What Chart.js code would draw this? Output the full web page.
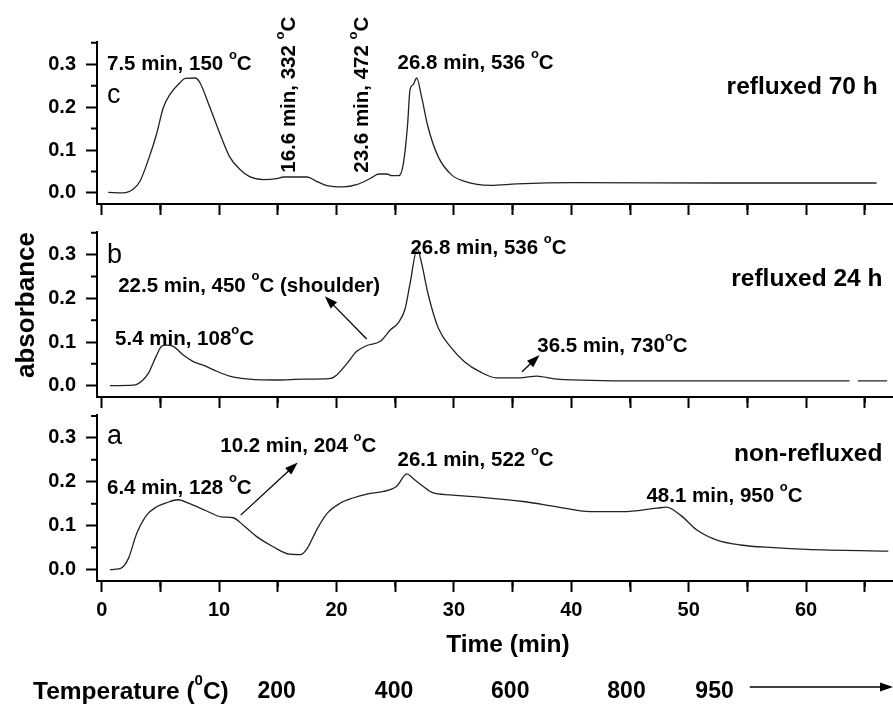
<!DOCTYPE html>
<html>
<head>
<meta charset="utf-8">
<title>absorbance vs time</title>
<script src="https://cdn.jsdelivr.net/npm/chart.js@4.4.0/dist/chart.umd.min.js"></script>
<style>
  html, body { margin: 0; padding: 0; background: #fff; }
  #wrap { position: relative; width: 893px; height: 706px; overflow: hidden; }
  #wrap canvas { position: absolute; left: 0; top: 0; }
</style>
</head>
<body>
<div id="wrap">
  <canvas id="panelC" width="893" height="706"></canvas>
  <canvas id="panelB" width="893" height="706"></canvas>
  <canvas id="panelA" width="893" height="706"></canvas>
</div>
<script>
// 📊 data (time in min, absorbance)
const timeC = [0.56, 1.8, 2.7, 3.26, 3.97, 4.68, 5.25, 5.82, 6.67, 7.1, 7.95, 8.37, 9.22, 10.07, 10.9, 11.8, 12.6, 13.8, 14.9, 15.5, 17.5, 18.3, 19.2, 20.6, 21.7, 22.9, 23.6, 24.3, 24.7, 25.3, 25.7, 26.06, 26.26, 26.54, 26.83, 27.26, 27.8, 28.67, 29.8, 30.9, 33.1, 35.35, 40.2, 52.9, 66.0];
const absC  = [0.001, 0.0, 0.009, 0.027, 0.077, 0.138, 0.199, 0.23, 0.257, 0.267, 0.268, 0.257, 0.199, 0.138, 0.084, 0.054, 0.038, 0.031, 0.033, 0.037, 0.037, 0.027, 0.017, 0.014, 0.019, 0.034, 0.044, 0.044, 0.040, 0.040, 0.069, 0.161, 0.241, 0.253, 0.268, 0.222, 0.153, 0.084, 0.042, 0.027, 0.0175, 0.021, 0.024, 0.023, 0.023];

const timeB = [0.7, 2.7, 3.4, 3.97, 4.68, 5.1, 5.5, 6.1, 6.95, 7.8, 8.65, 9.8, 10.9, 12.6, 14.9, 17.2, 19.4, 20.0, 20.9, 21.7, 22.6, 23.7, 24.6, 25.26, 25.83, 26.26, 26.88, 27.26, 27.8, 28.67, 29.8, 30.9, 32.2, 33.6, 35.6, 37.05, 38.75, 45.9, 63.7, 64.0, 64.4, 66.9];
const absB  = [0.0, 0.001, 0.01, 0.028, 0.07, 0.09, 0.093, 0.09, 0.07, 0.055, 0.047, 0.033, 0.022, 0.015, 0.013, 0.015, 0.016, 0.024, 0.051, 0.078, 0.092, 0.101, 0.128, 0.144, 0.175, 0.233, 0.314, 0.279, 0.21, 0.132, 0.086, 0.055, 0.032, 0.018, 0.018, 0.022, 0.015, 0.011, 0.011, null, 0.011, 0.011];

const timeA = [0.7, 1.56, 2.27, 2.98, 3.83, 4.68, 5.5, 6.5, 7.5, 8.9, 10.2, 11.2, 12.06, 13.2, 14.6, 16.0, 16.9, 17.5, 18.3, 19.2, 20.3, 21.4, 22.6, 24.0, 25.1, 26.0, 26.5, 27.4, 28.2, 29.7, 31.65, 35.9, 38.75, 41.6, 44.4, 47.3, 48.1, 49.3, 50.7, 52.4, 54.4, 57.2, 60.05, 67.0];
const absA  = [0.0, 0.002, 0.025, 0.082, 0.124, 0.143, 0.152, 0.159, 0.15, 0.134, 0.12, 0.118, 0.101, 0.075, 0.052, 0.035, 0.034, 0.048, 0.09, 0.128, 0.151, 0.163, 0.172, 0.178, 0.189, 0.218, 0.208, 0.189, 0.175, 0.17, 0.166, 0.155, 0.143, 0.132, 0.132, 0.14, 0.142, 0.124, 0.09, 0.067, 0.056, 0.05, 0.046, 0.042];

// tick values
const xTicks = [0, 5, 10, 15, 20, 25, 30, 35, 40, 45, 50, 55, 60, 65];
const yTicks = [0, 0.05, 0.1, 0.15, 0.2, 0.25, 0.3, 0.35];

// temperature row under the time axis
const tempLabels = ['200', '400', '600', '800', '950'];
const tempTimes  = [14.9, 24.9, 34.8, 44.7, 52.2];

const FAMILY = '"Liberation Sans", Arial, Helvetica, sans-serif';

// 📝 labels drawn on top of each panel, anchored in data units
const panelNotes = {
  panelC: {
    letter: { t: 0.45, v: 0.226, text: 'c' },
    texts: [
      { t: 0.45, v: 0.30, text: '7.5 min, 150 {o}C' },
      { t: 25.2, v: 0.302, text: '26.8 min, 536 {o}C' },
      { t: 66.1, v: 0.247, text: 'refluxed 70 h', big: true, align: 'right' },
      { t: 16.0, v: 0.047, text: '16.6 min, 332 {o}C', rotate: true },
      { t: 22.2, v: 0.047, text: '23.6 min, 472 {o}C', rotate: true },
    ],
    arrows: [],
  },
  panelB: {
    letter: { t: 0.45, v: 0.298, text: 'b' },
    texts: [
      { t: 1.4, v: 0.228, text: '22.5 min, 450 {o}C (shoulder)' },
      { t: 1.14, v: 0.105, text: '5.4 min, 108{o}C' },
      { t: 26.3, v: 0.314, text: '26.8 min, 536 {o}C' },
      { t: 66.5, v: 0.244, text: 'refluxed 24 h', big: true, align: 'right' },
      { t: 37.1, v: 0.089, text: '36.5 min, 730{o}C' },
    ],
    arrows: [[22.57, 0.107, 19.0, 0.205], [35.8, 0.032, 37.3, 0.070]],
  },
  panelA: {
    letter: { t: 0.45, v: 0.303, text: 'a' },
    texts: [
      { t: 10.1, v: 0.28, text: '10.2 min, 204 {o}C' },
      { t: 0.45, v: 0.186, text: '6.4 min, 128 {o}C' },
      { t: 25.2, v: 0.248, text: '26.1 min, 522 {o}C' },
      { t: 66.5, v: 0.262, text: 'non-refluxed', big: true, align: 'right' },
      { t: 46.4, v: 0.166, text: '48.1 min, 950 {o}C' },
    ],
    arrows: [[11.84, 0.124, 16.7, 0.244]],
  },
};

// text with a small raised "o" / "0" for the degree sign
function richText(ctx, str, x, y, size, align) {
  const parts = str.split(/(\{o\}|\{0\})/).filter(Boolean);
  const big = `bold ${size}px ${FAMILY}`;
  const small = `bold ${Math.round(size * 0.62)}px ${FAMILY}`;
  const isSup = (p) => p === '{o}' || p === '{0}';
  let w = 0;
  parts.forEach((p) => {
    ctx.font = isSup(p) ? small : big;
    w += ctx.measureText(isSup(p) ? p[1] : p).width;
  });
  let cx = align === 'right' ? x - w : align === 'center' ? x - w / 2 : x;
  ctx.textAlign = 'left';
  ctx.textBaseline = 'middle';
  parts.forEach((p) => {
    const sup = isSup(p);
    const t = sup ? p[1] : p;
    ctx.font = sup ? small : big;
    ctx.fillText(t, cx, sup ? y - size * 0.45 : y);
    cx += ctx.measureText(t).width;
  });
}

function arrow(ctx, x1, y1, x2, y2) {
  const a = Math.atan2(y2 - y1, x2 - x1);
  const len = 13, half = 4.5;
  ctx.strokeStyle = '#000';
  ctx.lineWidth = 1.3;
  ctx.beginPath();
  ctx.moveTo(x1, y1);
  ctx.lineTo(x2 - Math.cos(a) * len * 0.8, y2 - Math.sin(a) * len * 0.8);
  ctx.stroke();
  ctx.beginPath();
  ctx.moveTo(x2, y2);
  ctx.lineTo(x2 - Math.cos(a) * len - Math.sin(a) * half, y2 - Math.sin(a) * len + Math.cos(a) * half);
  ctx.lineTo(x2 - Math.cos(a) * len + Math.sin(a) * half, y2 - Math.sin(a) * len - Math.cos(a) * half);
  ctx.closePath();
  ctx.fillStyle = '#000';
  ctx.fill();
}

const NOTE_SIZE = 20.5;
const BIG_SIZE = 24.5;

const notesPlugin = {
  id: 'notes',
  afterDraw(chart) {
    const { ctx, chartArea, scales: { x, y } } = chart;
    const cfg = panelNotes[chart.canvas.id];
    ctx.save();
    ctx.fillStyle = '#000';

    // minor ticks (shorter than the ones Chart.js draws)
    ctx.strokeStyle = '#000';
    ctx.lineWidth = 2;
    ctx.beginPath();
    xTicks.filter((v) => v % 10 !== 0).forEach((v) => {
      const px = x.getPixelForValue(v);
      ctx.moveTo(px, chartArea.bottom);
      ctx.lineTo(px, chartArea.bottom + 6);
    });
    yTicks.filter((v) => Math.round(v * 100) % 10 !== 0).forEach((v) => {
      const py = y.getPixelForValue(v);
      ctx.moveTo(chartArea.left, py);
      ctx.lineTo(chartArea.left - 6, py);
    });
    ctx.stroke();

    // panel letter
    ctx.font = `27px ${FAMILY}`;
    ctx.textAlign = 'left';
    ctx.textBaseline = 'middle';
    ctx.fillText(cfg.letter.text, x.getPixelForValue(cfg.letter.t), y.getPixelForValue(cfg.letter.v));

    cfg.texts.forEach((n) => {
      const px = x.getPixelForValue(n.t);
      const py = y.getPixelForValue(n.v);
      if (n.rotate) {
        ctx.save();
        ctx.translate(px, py);
        ctx.rotate(-Math.PI / 2);
        richText(ctx, n.text, 0, 0, NOTE_SIZE, 'left');
        ctx.restore();
      } else {
        richText(ctx, n.text, px, py, n.big ? BIG_SIZE : NOTE_SIZE, n.align || 'left');
      }
    });

    cfg.arrows.forEach((a) => {
      arrow(ctx, x.getPixelForValue(a[0]), y.getPixelForValue(a[1]), x.getPixelForValue(a[2]), y.getPixelForValue(a[3]));
    });

    if (chart.canvas.id === 'panelB') {
      ctx.save();
      ctx.translate(27, 305);
      ctx.rotate(-Math.PI / 2);
      ctx.font = `bold 26px ${FAMILY}`;
      ctx.textAlign = 'center';
      ctx.textBaseline = 'middle';
      ctx.fillText('absorbance', 0, 0);
      ctx.restore();
    }

    if (chart.canvas.id === 'panelA') {
      ctx.font = `bold 24.5px ${FAMILY}`;
      ctx.textAlign = 'center';
      ctx.textBaseline = 'middle';
      ctx.fillText('Time (min)', x.getPixelForValue(34.6), 645);

      // temperature row
      richText(ctx, 'Temperature ({0}C)', 33, 692, 24.5, 'left');
      ctx.font = `bold 23px ${FAMILY}`;
      ctx.textAlign = 'center';
      tempLabels.forEach((lab, i) => ctx.fillText(lab, x.getPixelForValue(tempTimes[i]), 692));
      arrow(ctx, x.getPixelForValue(55.2), 687, 893, 687);
    }
    ctx.restore();
  },
};

Chart.defaults.font.family = FAMILY;
Chart.defaults.color = '#000';

const panels = [
  { id: 'panelC', t: timeC, v: absC, top: 42, bottom: 204, labels: false },
  { id: 'panelB', t: timeB, v: absB, top: 232, bottom: 397, labels: false },
  { id: 'panelA', t: timeA, v: absA, top: 415, bottom: 581, labels: true },
];

const majorColor = (c) => (c.tick && Math.round(c.tick.value * 100) % 10 === 0 ? '#000' : 'rgba(0,0,0,0)');

panels.forEach((p) => {
  const xHeight = p.labels ? 40 : 20;
  new Chart(document.getElementById(p.id), {
    type: 'line',
    data: {
      datasets: [{
        data: p.t.map((t, i) => ({ x: t, y: p.v[i] })),
        borderColor: '#222',
        borderWidth: 1.3,
        pointRadius: 0,
        cubicInterpolationMode: 'monotone',
        spanGaps: false,
      }],
    },
    options: {
      responsive: false,
      animation: false,
      devicePixelRatio: 1,
      layout: { padding: { top: p.top, bottom: 706 - p.bottom - xHeight, left: 0, right: 0 } },
      plugins: { legend: { display: false }, tooltip: { enabled: false } },
      scales: {
        x: {
          type: 'linear',
          min: -0.4,
          max: 67.4,
          afterBuildTicks: (s) => { s.ticks = xTicks.map((v) => ({ value: v })); },
          afterFit: (s) => { s.height = xHeight; },
          ticks: {
            display: p.labels,
            autoSkip: false,
            maxRotation: 0,
            padding: 6,
            font: { size: 20, weight: 'bold' },
            callback: (v) => (v % 10 === 0 ? String(v) : ''),
          },
          grid: {
            drawOnChartArea: false,
            tickLength: 11,
            tickWidth: 2,
            tickColor: majorColor,
          },
          border: { color: '#000', width: 2 },
        },
        y: {
          min: -0.026,
          max: 0.352,
          afterBuildTicks: (s) => { s.ticks = yTicks.map((v) => ({ value: v })); },
          afterFit: (s) => { s.width = 97; },
          ticks: {
            autoSkip: false,
            padding: 10,
            font: { size: 20, weight: 'bold' },
            callback: (v) => (Math.round(v * 100) % 10 === 0 ? v.toFixed(1) : ''),
          },
          grid: {
            drawOnChartArea: false,
            tickLength: 11,
            tickWidth: 2,
            tickColor: majorColor,
          },
          border: { color: '#000', width: 2 },
        },
      },
    },
    plugins: [notesPlugin],
  });
});
</script>
</body>
</html>
